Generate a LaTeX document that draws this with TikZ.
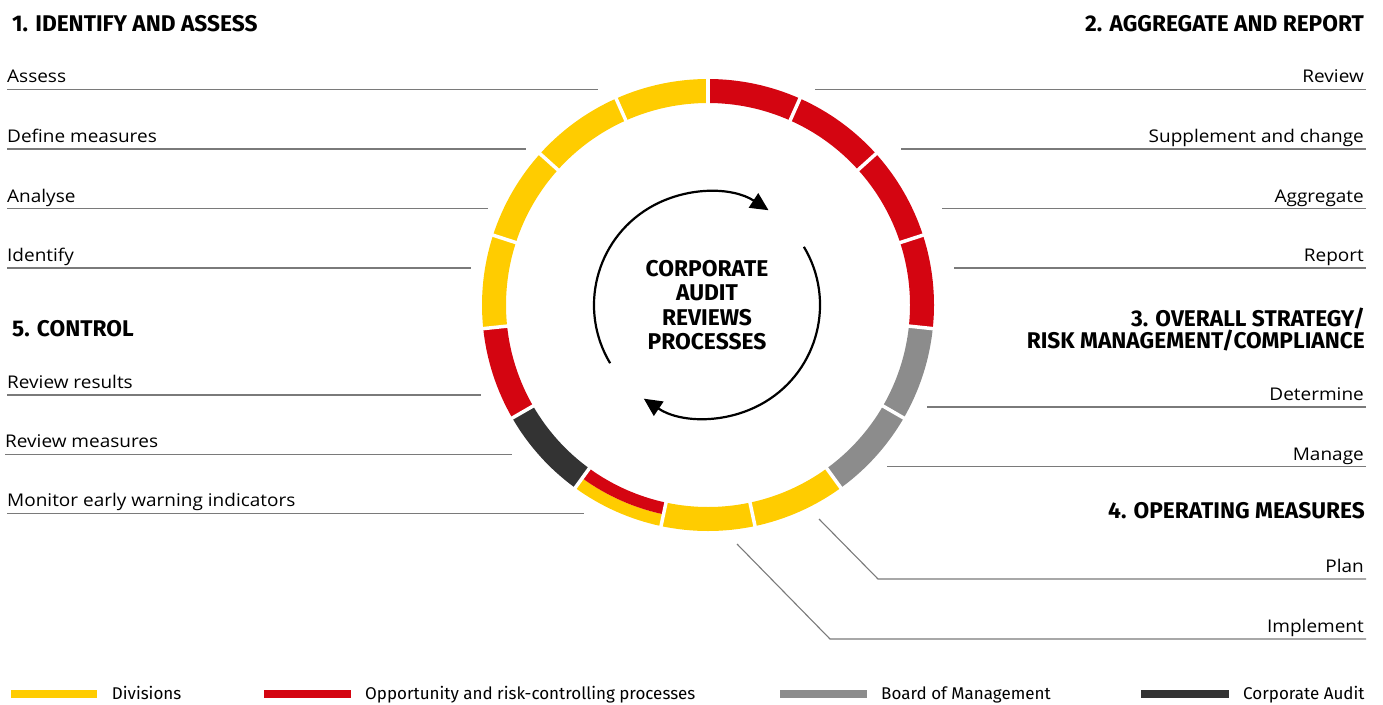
\documentclass[tikz,border=0pt]{standalone}
\usepackage{fontspec}
\setmainfont{Fira Sans}
\newfontfamily\itemfont[FakeStretch=1.085]{Open Sans}
\usetikzlibrary{arrows.meta}
\definecolor{dhlyellow}{HTML}{FFCC00}
\definecolor{dhlred}{HTML}{D40511}
\definecolor{bmgray}{HTML}{8C8C8C}
\definecolor{cadark}{HTML}{333333}
\definecolor{leadgray}{HTML}{7A7A7A}
\tikzset{
  seg/.style={line width=24pt, line cap=butt},
  halfseg/.style={line width=12pt, line cap=butt},
  gapline/.style={white, line width=3.5pt},
  leader/.style={draw=leadgray, line width=1.1pt},
  itemL/.style={anchor=base west, inner sep=0pt, font=\itemfont\fontsize{17.5}{20}\selectfont},
  itemR/.style={anchor=base east, inner sep=0pt, font=\itemfont\fontsize{17.5}{20}\selectfont},
  headL/.style={anchor=base west, inner sep=0pt, font=\fontsize{22.7}{26}\selectfont\bfseries},
  headR/.style={anchor=base east, inner sep=0pt, font=\fontsize{22.7}{26}\selectfont\bfseries},
  ctr/.style={anchor=base, inner sep=0pt, font=\fontsize{22.8}{26}\selectfont\bfseries},
  legbar/.style={line width=8pt, line cap=butt},
  legtext/.style={anchor=base west, inner sep=0pt, font=\fontsize{17}{20}\selectfont},
  cycarrow/.style={line width=2.2pt, -{Triangle[length=18pt, width=17pt]}}
}
\begin{document}
\begin{tikzpicture}[x=1pt, y=1pt]
\useasboundingbox (0,0) rectangle (1383,-704);
\coordinate (C) at (708,-305);
% ring segments
\foreach \a/\c in {90/dhlred,66/dhlred,42/dhlred,18/dhlred,-6/bmgray,-30/bmgray,-54/dhlyellow,-78/dhlyellow,-126/cadark,-150/dhlred,-174/dhlyellow,-198/dhlyellow,-222/dhlyellow,-246/dhlyellow}{
  \draw[seg, draw=\c] ([shift={(\a:214)}]C) arc[start angle=\a, end angle=\a-24, radius=214];
}
\draw[halfseg, draw=dhlyellow] ([shift={(-102:220)}]C) arc[start angle=-102, end angle=-126, radius=220];
\draw[halfseg, draw=dhlred] ([shift={(-102:208)}]C) arc[start angle=-102, end angle=-126, radius=208];
\foreach \a in {90,66,42,18,-6,-30,-54,-78,-102,-126,-150,-174,-198,-222,-246}{
  \draw[gapline] ([shift={(\a:196)}]C) -- ([shift={(\a:232)}]C);
}
% cycle arrows
\coordinate (A) at (707,-305);
\draw[cycarrow] ([shift={(211:113)}]A) arc[start angle=211, end angle=57, radius=113];
\draw[cycarrow] ([shift={(31:113)}]A) arc[start angle=31, end angle=-124, radius=113];
% centre text
\node[ctr] (c1) at (707,-276.7) {CORPORATE};
\node[ctr] (c2) at (707,-300.9) {AUDIT};
\node[ctr] (c3) at (707,-325.4) {REVIEWS};
\node[ctr] (c4) at (707,-349.8) {PROCESSES};
% headers
\node[headL] (h1) at (12,-31) {1. IDENTIFY AND ASSESS};
\node[headR] (h2) at (1364,-31) {2. AGGREGATE AND REPORT};
\node[headR] (h3a) at (1365,-326) {3. OVERALL STRATEGY/};
\node[headR] (h3b) at (1365,-348) {RISK MANAGEMENT/COMPLIANCE};
\node[headR] (h4) at (1365,-518) {4. OPERATING MEASURES};
\node[headL] (h5) at (12,-336) {5. CONTROL};
% left items
\node[itemL] (assess) at (7,-82.7) {Assess};
\node[itemL] (define) at (7,-142.5) {Define measures};
\node[itemL] (analyse) at (7,-202) {Analyse};
\node[itemL] (identify) at (7,-261.5) {Identify};
\node[itemL] (revres) at (7,-388.3) {Review results};
\node[itemL] (revmea) at (5,-447.7) {Review measures};
\node[itemL] (monitor) at (7,-506.7) {Monitor early warning indicators};
% right items
\node[itemR] (review) at (1364,-82.7) {Review};
\node[itemR] (supp) at (1364,-142.5) {Supplement and change};
\node[itemR] (aggr) at (1364,-202) {Aggregate};
\node[itemR] (report) at (1364,-261.5) {Report};
\node[itemR] (determine) at (1364,-400.3) {Determine};
\node[itemR] (manage) at (1364,-460) {Manage};
\node[itemR] (plan) at (1364,-572.3) {Plan};
\node[itemR] (impl) at (1364,-632.3) {Implement};
% leader line ends
\coordinate (assessE) at (598,-89.5);
\coordinate (defineE) at (526,-149);
\coordinate (analyseE) at (488,-208.5);
\coordinate (identifyE) at (471,-268);
\coordinate (revresE) at (481,-395);
\coordinate (revmeaE) at (512,-454.5);
\coordinate (monitorE) at (584,-513.5);
\coordinate (reviewE) at (815,-89.5);
\coordinate (suppE) at (901,-149);
\coordinate (aggrE) at (942,-208.5);
\coordinate (reportE) at (954,-268);
\coordinate (determineE) at (927,-407);
\coordinate (manageE) at (887,-466.7);
\coordinate (planS) at (819,-519);
\coordinate (planK) at (878,-579);
\coordinate (implS) at (737,-544);
\coordinate (implK) at (830,-639);
\draw[leader] (7,-89.5) -- (assessE);
\draw[leader] (7,-149) -- (defineE);
\draw[leader] (7,-208.5) -- (analyseE);
\draw[leader] (7,-268) -- (identifyE);
\draw[leader] (7,-395) -- (revresE);
\draw[leader] (5,-454.5) -- (revmeaE);
\draw[leader] (7,-513.5) -- (monitorE);
\draw[leader] (1366,-89.5) -- (reviewE);
\draw[leader] (1366,-149) -- (suppE);
\draw[leader] (1366,-208.5) -- (aggrE);
\draw[leader] (1366,-268) -- (reportE);
\draw[leader] (1366,-407) -- (determineE);
\draw[leader] (1366,-466.7) -- (manageE);
\draw[leader] (planS) -- (planK) -- (1366,-579);
\draw[leader] (implS) -- (implK) -- (1366,-639);
% legend
\draw[legbar, draw=dhlyellow] (11,-694) -- (97,-694);
\node[legtext] (lg1) at (111.7,-699.3) {Divisions};
\draw[legbar, draw=dhlred] (264,-694) -- (351,-694);
\node[legtext] (lg2) at (365,-699.3) {Opportunity and risk-controlling processes};
\draw[legbar, draw=bmgray] (780,-694) -- (867,-694);
\node[legtext] (lg3) at (881,-699.3) {Board of Management};
\draw[legbar, draw=cadark] (1141,-694) -- (1229,-694);
\node[legtext] (lg4) at (1243,-699.3) {Corporate Audit};
\end{tikzpicture}
\end{document}
